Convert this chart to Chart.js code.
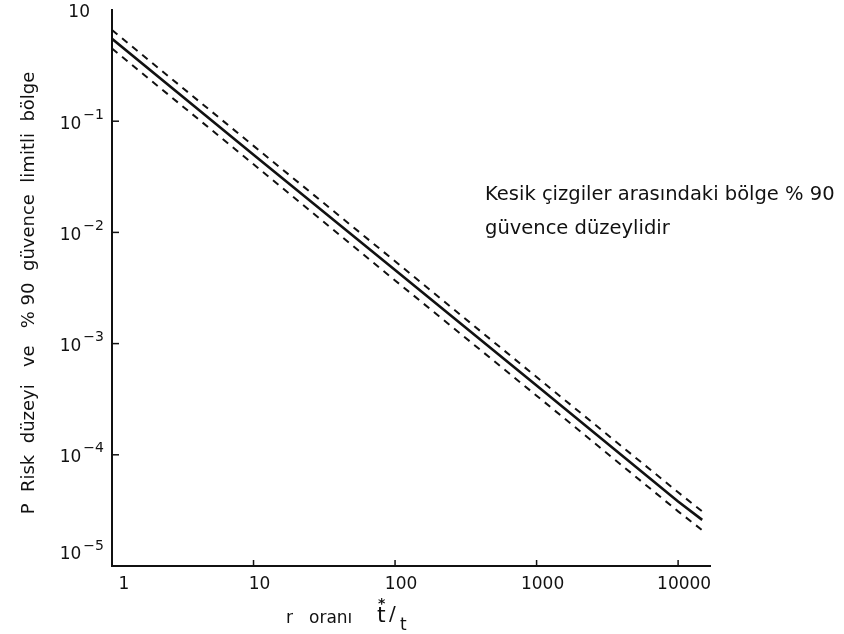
<!DOCTYPE html>
<html>
<head>
<meta charset="utf-8">
<script src="https://cdn.jsdelivr.net/npm/chart.js@4"></script>
<style>
  html, body { margin: 0; padding: 0; background: #fff; }
  canvas { display: block; }
</style>
</head>
<body>
<canvas id="riskChart" width="844" height="634"></canvas>
<script>
// values
const rValues = [1, 10, 100, 1000, 10000, 14800];
const riskLevel = [0.55, 0.050, 0.0046, 4.2e-4, 3.8e-5, 2.6e-5];
const upperLimit = [0.66, 0.060, 0.0055, 5.0e-4, 4.6e-5, 3.1e-5];
const lowerLimit = [0.45, 0.041, 0.0037, 3.4e-4, 3.1e-5, 2.1e-5];

const xTicks = [1, 10, 100, 1000, 10000];
const xTickLabels = ['1', '10', '100', '1000', '10000'];
const yTicks = [1, 0.1, 0.01, 0.001, 1e-4, 1e-5];
const yTickExp = ['', '\u22121', '\u22122', '\u22123', '\u22124', '\u22125'];

const yTitle = 'P  Risk  düzeyi   ve   % 90  güvence  limitli  bölge';
const noteLines = ['Kesik çizgiler arasındaki bölge % 90', 'güvence düzeylidir'];

const ink = '#111';
const font = '"DejaVu Sans", sans-serif';

function toPoints(ys) {
    return rValues.map((r, i) => ({ x: r, y: ys[i] }));
}

const paperPlugin = {
    id: 'paper',
    afterDraw(chart) {
        const ctx = chart.ctx;
        const xs = chart.scales.x;
        const ys = chart.scales.y;
        const area = chart.chartArea;
        ctx.save();
        ctx.strokeStyle = ink;
        ctx.fillStyle = ink;
        ctx.lineWidth = 1.5;

        // short inward ticks
        yTicks.forEach(v => {
            if (v === 1 || v === 1e-5) return;
            const py = ys.getPixelForValue(v);
            ctx.beginPath();
            ctx.moveTo(area.left, py);
            ctx.lineTo(area.left + 7, py);
            ctx.stroke();
        });
        xTicks.forEach(v => {
            if (v === 1) return;
            const px = xs.getPixelForValue(v);
            ctx.beginPath();
            ctx.moveTo(px, area.bottom);
            ctx.lineTo(px, area.bottom - 6);
            ctx.stroke();
        });

        // y tick labels 10^n
        ctx.textBaseline = 'middle';
        yTicks.forEach((v, i) => {
            let py = ys.getPixelForValue(v) + 3;
            if (i === yTicks.length - 1) py -= 14;
            const exp = yTickExp[i];
            ctx.font = '14px ' + font;
            const ew = exp ? ctx.measureText(exp).width + 2 : 14;
            const right = area.left - 8;
            ctx.textAlign = 'left';
            if (exp) ctx.fillText(exp, right - ew + 2, py - 9);
            ctx.font = '17px ' + font;
            ctx.textAlign = 'right';
            ctx.fillText('10', right - ew, py);
        });

        // x tick labels
        ctx.font = '17px ' + font;
        ctx.textAlign = 'center';
        xTicks.forEach((v, i) => {
            const px = xs.getPixelForValue(v) + (i === 0 ? 12 : 6);
            ctx.fillText(xTickLabels[i], px, area.bottom + 19);
        });

        // y title
        ctx.save();
        ctx.translate(29, (area.top + area.bottom) / 2 + 5);
        ctx.rotate(-Math.PI / 2);
        ctx.font = '18px ' + font;
        ctx.textAlign = 'center';
        ctx.fillText(yTitle, 0, 0);
        ctx.restore();

        // x title: r oranı t*/t
        ctx.textAlign = 'left';
        ctx.textBaseline = 'alphabetic';
        ctx.font = '17px ' + font;
        ctx.fillText('r', 286, 623);
        ctx.fillText('oranı', 309, 623);
        ctx.font = '22px ' + font;
        ctx.fillText('t', 377, 622);
        ctx.font = 'bold 14px ' + font;
        ctx.fillText('*', 378, 608);
        ctx.font = '20px ' + font;
        ctx.fillText('/', 389, 620);
        ctx.font = '17px ' + font;
        ctx.fillText('t', 400, 630);

        // note
        ctx.font = '19.5px ' + font;
        ctx.fillText(noteLines[0], 485, 200);
        ctx.fillText(noteLines[1], 485, 234);
        ctx.restore();
    }
};

new Chart(document.getElementById('riskChart').getContext('2d'), {
    type: 'line',
    data: {
        datasets: [
            {
                label: 'P',
                data: toPoints(riskLevel),
                borderColor: ink,
                borderWidth: 2.6,
                pointRadius: 0,
                tension: 0
            },
            {
                label: 'üst sınır',
                data: toPoints(upperLimit),
                borderColor: ink,
                borderWidth: 2,
                borderDash: [7, 6],
                pointRadius: 0,
                tension: 0
            },
            {
                label: 'alt sınır',
                data: toPoints(lowerLimit),
                borderColor: ink,
                borderWidth: 2,
                borderDash: [7, 6],
                pointRadius: 0,
                tension: 0
            }
        ]
    },
    options: {
        responsive: false,
        animation: false,
        layout: { padding: { left: 112, right: 134, top: 10, bottom: 68 } },
        plugins: { legend: { display: false }, tooltip: { enabled: false } },
        scales: {
            x: {
                type: 'logarithmic',
                min: 1,
                max: 16800,
                ticks: { display: false },
                grid: { display: false, drawTicks: false },
                border: { display: true, color: ink, width: 2 }
            },
            y: {
                type: 'logarithmic',
                min: 1e-5,
                max: 1,
                ticks: { display: false },
                grid: { display: false, drawTicks: false },
                border: { display: true, color: ink, width: 2 }
            }
        }
    },
    plugins: [paperPlugin]
});
</script>
</body>
</html>
